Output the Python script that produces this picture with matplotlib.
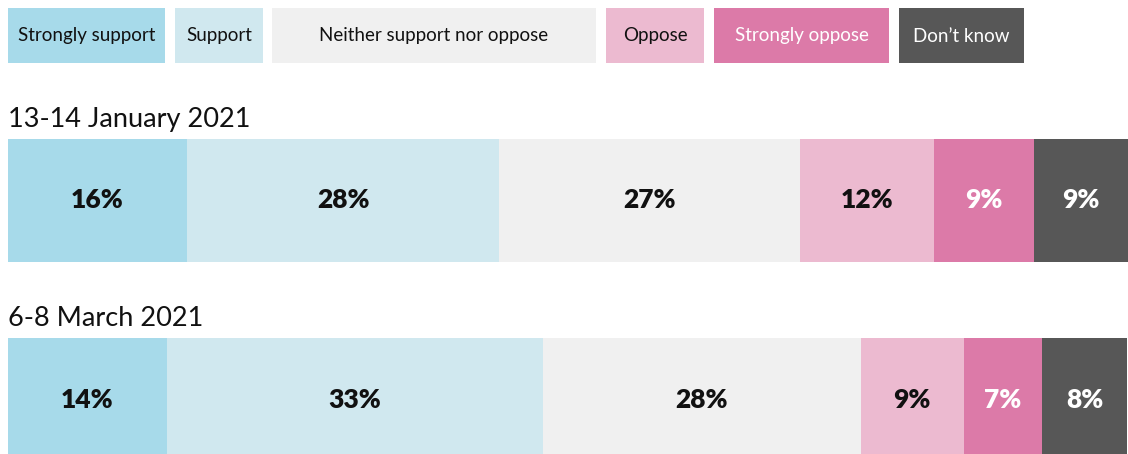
import matplotlib.pyplot as plt
from matplotlib.patches import Rectangle

# data
categories = ["Strongly support", "Support", "Neither support nor oppose",
              "Oppose", "Strongly oppose", "Don\u2019t know"]
periods = ["13-14 January 2021", "6-8 March 2021"]
jan_values = [16.0, 27.9, 26.9, 12.0, 8.9, 8.4]
jan_labels = ["16%", "28%", "27%", "12%", "9%", "9%"]
mar_values = [14.2, 33.6, 28.4, 9.2, 7.05, 7.6]
mar_labels = ["14%", "33%", "28%", "9%", "7%", "8%"]

colors = ["#a7daea", "#d0e8ef", "#f0f0f0", "#ecbad0", "#dc7aa8", "#575757"]
text_colors = ["#111111", "#111111", "#111111", "#111111", "white", "white"]

plt.rcParams['font.family'] = ['Lato', 'DejaVu Sans']

W, H = 1128, 454
fig = plt.figure(figsize=(W / 100, H / 100), dpi=100)

# overlay axes in pixel units for legend and titles
bg = fig.add_axes([0, 0, 1, 1])
bg.set_xlim(0, W)
bg.set_ylim(H, 0)
bg.axis('off')

legend_boxes = [(8, 165), (175, 263), (272, 596), (606, 704), (714, 889), (899, 1024)]
for (x0, x1), cat, c, tc in zip(legend_boxes, categories, colors, text_colors):
    bg.add_patch(Rectangle((x0, 8), x1 - x0, 55, facecolor=c, edgecolor='none'))
    bg.text((x0 + x1) / 2, 36, cat, ha='center', va='center', fontsize=13.5, color=tc)

title_y = [120, 319]
for ty, p in zip(title_y, periods):
    bg.text(8, ty, p, ha='left', va='center', fontsize=19.5, color='#111111')

# bars
ax = fig.add_axes([8 / W, 0, (W - 8) / W, 1])
ax.set_ylim(H, 0)
ax.axis('off')

rows = [(200.5, jan_values, jan_labels), (399.5, mar_values, mar_labels)]
for yc, vals, labs in rows:
    left = 0
    for v, lab, c, tc in zip(vals, labs, colors, text_colors):
        ax.barh(yc, v, left=left, height=123, color=c, edgecolor='none')
        ax.text(left + v / 2, yc, lab, ha='center', va='center', fontsize=19,
                fontweight='heavy', color=tc)
        left += v

ax.set_xlim(0, sum(jan_values))
fig.savefig("out.png", dpi=100)
